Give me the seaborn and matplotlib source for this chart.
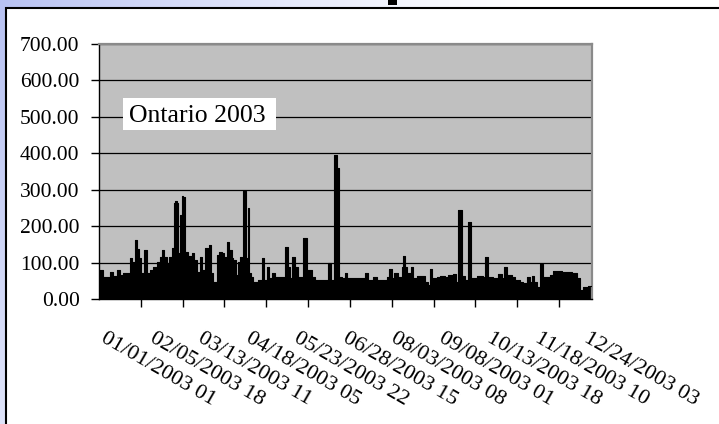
import numpy as np
import pandas as pd
import matplotlib
matplotlib.use("Agg")
import matplotlib.pyplot as plt
from matplotlib.patches import Rectangle
from matplotlib.ticker import MultipleLocator
import seaborn as sns

# ---- data (hour of year -> price level) ----
start_hour = [0, 75, 195, 255, 314, 373, 432, 521, 551, 592, 640, 681, 717, 740, 806, 859,
              906, 966, 1025, 1084, 1114, 1155, 1202, 1244, 1303, 1327, 1351, 1386, 1410,
              1439, 1469, 1499, 1528, 1587, 1647, 1694, 1735, 1795, 1836, 1884, 1931, 1955,
              1990, 2032, 2091, 2138, 2180, 2227, 2269, 2310, 2357, 2387, 2429, 2464, 2506,
              2535, 2565, 2606, 2642, 2666, 2701, 2743, 2831, 2891, 2932, 2980, 3021, 3068,
              3128, 3305, 3353, 3394, 3424, 3483, 3542, 3631, 3690, 3779, 3838, 4075, 4117,
              4182, 4229, 4271, 4312, 4372, 4413, 4668, 4727, 4786, 4875, 4935, 4993, 5111,
              5159, 5200, 5242, 5319, 5378, 5408, 5437, 5467, 5538, 5585, 5656, 5793, 5852,
              5881, 5923, 6000, 6059, 6148, 6207, 6284, 6343, 6385, 6444, 6503, 6563, 6604,
              6711, 6829, 6865, 6918, 7007, 7096, 7155, 7196, 7244, 7333, 7392, 7481, 7540,
              7599, 7658, 7688, 7729, 7777, 7836, 7883, 7925, 8014, 8061, 8221, 8399, 8488,
              8547, 8606, 8695, 8754, 8760]
price = [79.6, 61.3, 75.0, 63.1, 79.6, 65.9, 72.3, 70.5, 111.6, 102.5, 162.0, 136.3, 111.6, 70.5,
         134.5, 70.5, 79.6, 88.8, 100.6, 116.2, 134.5, 116.2, 97.9, 116.2, 139.1, 264.4, 269.9,
         262.6, 125.4, 230.6, 282.7, 280.9, 129.9, 118.0, 125.4, 107.0, 75.0, 114.4, 79.6,
         139.1, 134.5, 148.2, 70.5, 47.6, 120.8, 129.9, 125.4, 116.2, 157.4, 134.5, 111.6,
         107.0, 65.9, 102.5, 116.2, 111.6, 297.4, 111.6, 248.9, 70.5, 61.3, 47.6, 52.2, 111.6,
         52.2, 88.8, 56.7, 70.5, 61.3, 143.7, 88.8, 56.7, 114.4, 88.8, 61.3, 166.5, 79.6, 61.3,
         52.2, 97.9, 52.2, 395.3, 358.7, 61.3, 56.7, 70.5, 56.7, 56.7, 72.3, 52.2, 61.3, 52.2,
         52.2, 61.3, 82.4, 56.7, 72.3, 61.3, 88.8, 118.0, 88.8, 70.5, 86.9, 56.7, 64.1, 47.6,
         38.4, 82.4, 56.7, 61.3, 64.1, 61.3, 65.9, 68.6, 47.6, 244.3, 63.1, 52.2, 212.3, 56.7,
         64.1, 61.3, 114.4, 61.3, 56.7, 68.6, 56.7, 86.9, 65.9, 59.5, 52.2, 47.6, 43.0, 59.5,
         47.6, 63.1, 47.6, 33.9, 96.1, 61.3, 59.5, 65.9, 77.8, 73.2, 70.5, 56.7, 24.7, 32.0,
         35.7, 24.7, 24.7]
tick_labels = ["01/01/2003 01", "02/05/2003 18", "03/13/2003 11", "04/18/2003 05",
               "05/23/2003 22", "06/28/2003 15", "08/03/2003 08", "09/08/2003 01",
               "10/13/2003 18", "11/18/2003 10", "12/24/2003 03"]
y_ticks = [0, 100, 200, 300, 400, 500, 600, 700]
annotation = "Ontario 2003"

# hour-of-year position of each label, from the label text itself
stamps = pd.to_datetime(tick_labels, format="%m/%d/%Y %H")
label_hours = list((stamps - stamps[0]).total_seconds() / 3600.0)

sns.set_style("white")
plt.rcParams["font.family"] = ["Liberation Serif", "DejaVu Serif"]
plt.rcParams["text.color"] = "black"
plt.rcParams["xtick.color"] = "black"
plt.rcParams["ytick.color"] = "black"

W, H = 719, 424
fig = plt.figure(figsize=(W / 100, H / 100), dpi=100)

# slide background + white chart frame
bg = fig.add_axes([0, 0, 1, 1], zorder=-10)
yy, xx = np.mgrid[0:H, 0:W]
f = np.clip(1 - xx / (W * 0.75), 0, 1) ** 1.3 * (1 - 0.55 * yy / H)
lav = np.array([0.72, 0.76, 0.95])
img = 1 - f[..., None] * (1 - lav)
bg.imshow(img, extent=[0, W, H, 0], aspect="auto", interpolation="bilinear")
bg.set_xlim(0, W)
bg.set_ylim(H, 0)
bg.axis("off")
bg.add_patch(Rectangle((6, 8), W + 20, H + 20, facecolor="white", edgecolor="black", lw=1.5))
bg.add_patch(Rectangle((388, 0), 9, 5, facecolor="black", lw=0))

# main chart
ax = fig.add_axes([99 / W, 1 - 299 / H, 493 / W, 255 / H])
ax.set_facecolor("#c0c0c0")
ax.fill_between(start_hour, price, step="post", color="black", lw=0, zorder=2)
sns.lineplot(x=start_hour, y=price, drawstyle="steps-post", color="black", lw=0.8,
             ax=ax, zorder=3)

ax.set_xlim(0, 8760)
ax.set_ylim(0, 700)
ax.set_yticks(y_ticks)
ax.set_yticklabels([f"{v:.2f}" for v in y_ticks])
ax.yaxis.grid(True, color="black", lw=0.9)
ax.xaxis.grid(False)
ax.set_axisbelow(True)

for s in ["left", "bottom"]:
    ax.spines[s].set_color("black")
    ax.spines[s].set_linewidth(1.0)
for s in ["top", "right"]:
    ax.spines[s].set_color("#8a8a8a")
    ax.spines[s].set_linewidth(1.6)

ax.tick_params(axis="y", left=True, length=6, width=1, color="black", pad=8,
               labelsize=15.5, direction="out")

# category labels (every 857 h) and tick marks (every 743 h), as in the original
ax.set_xticks(label_hours)
ax.set_xticklabels([""] * len(label_hours))
ax.xaxis.set_minor_locator(MultipleLocator(743))
ax.tick_params(axis="x", which="major", bottom=True, length=0)
ax.tick_params(axis="x", which="minor", bottom=True, length=6, width=1, color="black",
               direction="out")
for h, lab in zip(label_hours, tick_labels):
    ax.annotate(lab, xy=(h, 0), xycoords=("data", "axes fraction"),
                xytext=(6.0, -21.5), textcoords="offset points",
                rotation=-30, rotation_mode="anchor", ha="left", va="top",
                fontsize=16, color="black", annotation_clip=False)

ax.set_xlabel("")
ax.set_ylabel("")

# "Ontario 2003" label box
ax.add_patch(Rectangle((24 / 493, (299 - 130) / 255), 153 / 493, 32 / 255,
                       transform=ax.transAxes, facecolor="white", edgecolor="none",
                       zorder=5))
ax.text(98 / 493, (299 - 122) / 255, annotation, transform=ax.transAxes,
        ha="center", va="baseline", fontsize=18.5, color="black", zorder=6)

fig.savefig("out.png", dpi=100)
